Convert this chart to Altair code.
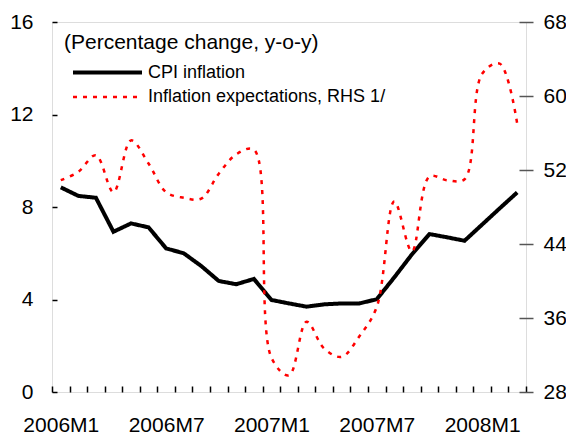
import altair as alt
import pandas as pd

months = ["2006M1", "2006M2", "2006M3", "2006M4", "2006M5", "2006M6", "2006M7", "2006M8", "2006M9",
          "2006M10", "2006M11", "2006M12", "2007M1", "2007M2", "2007M3", "2007M4", "2007M5", "2007M6",
          "2007M7", "2007M8", "2007M9", "2007M10", "2007M11", "2007M12", "2008M1", "2008M2", "2008M3"]
cpi = [8.85, 8.48, 8.40, 6.93, 7.29, 7.12, 6.21, 6.00, 5.45, 4.80, 4.66, 4.89, 3.98, 3.83, 3.69,
       3.79, 3.83, 3.83, 4.01, 4.96, 5.95, 6.83, 6.69, 6.54, 7.24, 7.94, 8.63]
expectations = [50.9, 51.8, 53.6, 49.6, 55.2, 52.7, 49.6, 49.0, 48.9, 51.6, 53.7, 54.2, 31.7, 29.8, 35.6,
                32.7, 31.8, 34.0, 37.2, 48.6, 43.2, 51.3, 50.9, 51.0, 62.4, 63.5, 57.0]
tick_labels = ["2006M1", "2006M7", "2007M1", "2007M7", "2008M1"]
series_names = ["CPI inflation", "Inflation expectations, RHS 1/"]
left_ticks = [0, 4, 8, 12, 16]
right_ticks = [28, 36, 44, 52, 60, 68]

df = pd.DataFrame({"month": months, "cpi": cpi, "exp": expectations})

FONT = "Liberation Sans"
label_list = "[" + ",".join("'" + t + "'" for t in tick_labels) + "]"

x_enc = alt.X(
    "month:O",
    sort=months,
    scale=alt.Scale(paddingInner=0, paddingOuter=0),
    axis=alt.Axis(
        title=None, labelAngle=0, domain=False, tickBand="extent", tickSize=6, offset=-6,
        tickColor="black", tickWidth=1.5, labelPadding=22, labelFont=FONT, labelFontSize=21,
        labelColor="black", labelExpr="indexof(" + label_list + ", datum.value) >= 0 ? datum.value : ''",
    ),
)

legend = alt.Legend(
    orient="none", legendX=42, legendY=37, title=None, symbolType="M-3,0H3", symbolSize=529,
    labelFont=FONT, labelFontSize=18, labelColor="black", labelOffset=27, rowPadding=2,
    labelLimit=500,
)

color_enc = alt.Color("series:N", scale=alt.Scale(domain=series_names, range=["black", "red"]), legend=legend)
dash_enc = alt.StrokeDash("series:N", scale=alt.Scale(domain=series_names, range=[[1, 0], [4, 6]]), legend=legend)
width_enc = alt.StrokeWidth("series:N", scale=alt.Scale(domain=series_names, range=[4, 2.5]), legend=legend)

cpi_line = alt.Chart(df).transform_calculate(series="'CPI inflation'").mark_line(
    strokeJoin="miter"
).encode(
    x=x_enc,
    y=alt.Y("cpi:Q", scale=alt.Scale(domain=[0, 16], nice=False, zero=False),
            axis=alt.Axis(title=None, values=left_ticks, orient="left", domain=False, offset=-5,
                          tickSize=5, tickColor="black", tickWidth=1.5, labelPadding=19,
                          labelFont=FONT, labelFontSize=21, labelColor="black", grid=False)),
    color=color_enc,
    strokeDash=dash_enc,
    strokeWidth=width_enc,
)

exp_line = alt.Chart(df).transform_calculate(series="'Inflation expectations, RHS 1/'").mark_line(
    interpolate="catmull-rom"
).encode(
    x=x_enc,
    y=alt.Y("exp:Q", scale=alt.Scale(domain=[28, 68], nice=False, zero=False),
            axis=alt.Axis(title=None, values=right_ticks, orient="right", domain=False, offset=-7,
                          tickSize=14, tickColor="#555555", tickWidth=1.5, labelPadding=10,
                          labelFont=FONT, labelFontSize=21, labelColor="black", grid=False)),
    color=color_enc,
    strokeDash=dash_enc,
    strokeWidth=width_enc,
)

chart = alt.layer(cpi_line, exp_line).resolve_scale(y="independent").properties(
    width=474,
    height=370,
    autosize=alt.AutoSizeParams(type="none"),
    padding={"left": 44, "top": 14, "right": 40, "bottom": 46},
    title=alt.TitleParams(
        "(Percentage change, y-o-y)", anchor="start", frame="group", orient="top", offset=0,
        dx=12, dy=59, baseline="alphabetic", fontSize=21, fontWeight="normal", font=FONT,
        color="black",
    ),
).configure_view(stroke="black", strokeWidth=2).configure(background="white")

chart.save("out.html", embed_options={"renderer": "svg", "actions": False})
